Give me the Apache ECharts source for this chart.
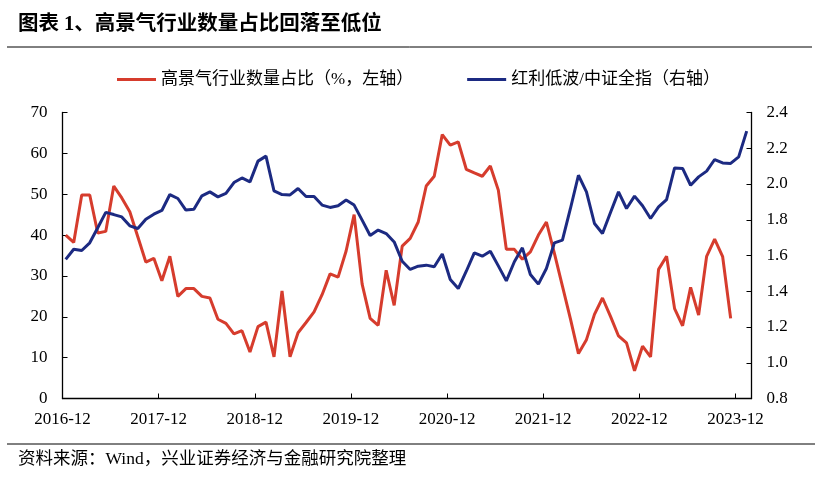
<!DOCTYPE html>
<html>
<head>
<meta charset="utf-8">
<script src="https://cdn.jsdelivr.net/npm/echarts@6/dist/echarts.min.js"></script>
<style>
html,body{margin:0;padding:0;background:#fff;}
#main{width:819px;height:486px;}
</style>
</head>
<body>
<div id="main"></div>
<script>
// ---- data ----
const titleText = '图表 1、高景气行业数量占比回落至低位';
const sourceText = '资料来源：Wind，兴业证券经济与金融研究院整理';
const seriesNames = ['高景气行业数量占比（%，左轴）', '红利低波/中证全指（右轴）'];
const xTickLabels = ['2016-12','2017-12','2018-12','2019-12','2020-12','2021-12','2022-12','2023-12'];
const leftTicks = [0,10,20,30,40,50,60,70];
const rightTicks = ['0.8','1.0','1.2','1.4','1.6','1.8','2.0','2.2','2.4'];
const startMonth = '2016-12';
// 高景气行业数量占比 (%), monthly from 2016-12
const shareValues = [
  40.0, 38.2, 49.8, 49.8, 40.5, 40.9, 52.0, 49.1, 45.7, 39.6, 33.4, 34.3, 28.8, 34.8, 25.0,
  26.9, 26.9, 25.0, 24.6, 19.4, 18.4, 15.8, 16.6, 11.4, 17.6, 18.7, 10.2, 26.3, 10.2, 16.1,
  18.6, 21.2, 25.4, 30.5, 29.7, 36.1, 45.0, 28.0, 19.6, 17.9, 31.4, 22.8, 37.3,
  39.2, 43.2, 52.0, 54.4, 64.6, 62.0, 62.8, 56.1, 55.2, 54.4, 56.9, 51.0, 36.5, 36.5, 34.1,
  35.9, 40.0, 43.2, 35.5, 27.5, 19.5, 11.0, 14.4, 20.6, 24.6, 20.1, 15.3, 13.6, 6.8, 12.8,
  10.2, 31.6, 34.8, 22.0, 17.8, 27.2, 20.4, 34.8, 39.0, 34.7, 19.6
];
// 红利低波/中证全指, monthly from 2016-12
const ratioValues = [
  1.578, 1.635, 1.628, 1.671, 1.755, 1.841, 1.829, 1.816, 1.766, 1.751, 1.803, 1.831, 1.852,
  1.941, 1.919, 1.854, 1.859, 1.934, 1.956, 1.928, 1.947, 2.008, 2.034, 2.012, 2.128, 2.156,
  1.962, 1.941, 1.939, 1.975, 1.930, 1.930, 1.882, 1.869, 1.878, 1.910, 1.882, 1.798, 1.712,
  1.742, 1.723, 1.676, 1.568,
  1.522, 1.540, 1.546, 1.537, 1.608, 1.466, 1.415, 1.512, 1.615, 1.596, 1.624, 1.542, 1.458,
  1.565, 1.643, 1.494, 1.440, 1.527, 1.671, 1.686, 1.863, 2.049, 1.956, 1.779, 1.723, 1.841,
  1.956, 1.863, 1.932, 1.878, 1.807, 1.872, 1.913, 2.090, 2.087, 1.993, 2.040, 2.072, 2.137,
  2.118, 2.115, 2.152, 2.296
];

// ---- build ----
const POS_OFFSET = 0.4;   // observations sit a little after the month tick
const toPoints = vals => vals.map((v, i) => [i + POS_OFFSET, v]);
const latin = 'Liberation Serif, "Noto Sans CJK SC", serif';

const chart = echarts.init(document.getElementById('main'), null, {renderer: 'canvas'});
const option = {
  backgroundColor: '#ffffff',
  animation: false,
  graphic: [
    {type: 'text', left: 18, top: 14, style: {text: titleText, fontSize: 20.5, fontWeight: 'bold', fontFamily: latin, fill: '#000'}},
    {type: 'line', shape: {x1: 7, y1: 47, x2: 812, y2: 47}, style: {stroke: '#000', lineWidth: 1}},
    {type: 'line', shape: {x1: 7, y1: 444, x2: 815, y2: 444}, style: {stroke: '#000', lineWidth: 1}},
    {type: 'text', left: 18, top: 451, style: {text: sourceText, fontSize: 17.5, fontFamily: latin, fill: '#000'}}
  ],
  legend: {
    left: 112, top: 66,
    itemWidth: 39, itemHeight: 3, itemGap: 54,
    icon: 'rect',
    textStyle: {fontSize: 17, fontFamily: latin, color: '#000'},
    data: seriesNames
  },
  grid: {left: 62.5, right: 67.5, top: 112.5, bottom: 87.5, containLabel: false},
  xAxis: {
    type: 'value', min: 0, max: 86, interval: 12,
    axisLine: {lineStyle: {color: '#000', width: 1.3}},
    axisTick: {inside: true, length: 5, lineStyle: {color: '#000'}},
    splitLine: {show: false},
    axisLabel: {
      color: '#000', fontSize: 17, fontFamily: latin, margin: 13,
      showMaxLabel: false,
      formatter: v => (v % 12 === 0 && xTickLabels[v / 12]) ? xTickLabels[v / 12] : ''
    }
  },
  yAxis: [
    {
      type: 'value', min: leftTicks[0], max: leftTicks[leftTicks.length - 1], interval: 10,
      axisLine: {show: true, lineStyle: {color: '#000', width: 1.3}},
      axisTick: {show: true, inside: true, length: 5, lineStyle: {color: '#000'}},
      splitLine: {show: false},
      axisLabel: {color: '#000', fontSize: 17, fontFamily: latin, margin: 15}
    },
    {
      type: 'value', min: 0.8, max: 2.4, interval: 0.2,
      axisLine: {show: true, lineStyle: {color: '#000', width: 1.3}},
      axisTick: {show: true, inside: true, length: 5, lineStyle: {color: '#000'}},
      splitLine: {show: false},
      axisLabel: {color: '#000', fontSize: 17, fontFamily: latin, margin: 15,
        formatter: v => v.toFixed(1)}
    }
  ],
  series: [
    {
      name: seriesNames[0], type: 'line', yAxisIndex: 0,
      data: toPoints(shareValues), showSymbol: false, symbol: 'none',
      lineStyle: {color: '#d63c2d', width: 3}, itemStyle: {color: '#d63c2d'}
    },
    {
      name: seriesNames[1], type: 'line', yAxisIndex: 1,
      data: toPoints(ratioValues), showSymbol: false, symbol: 'none',
      lineStyle: {color: '#1c2a82', width: 3}, itemStyle: {color: '#1c2a82'}
    }
  ]
};
chart.setOption(option);
</script>
</body>
</html>
